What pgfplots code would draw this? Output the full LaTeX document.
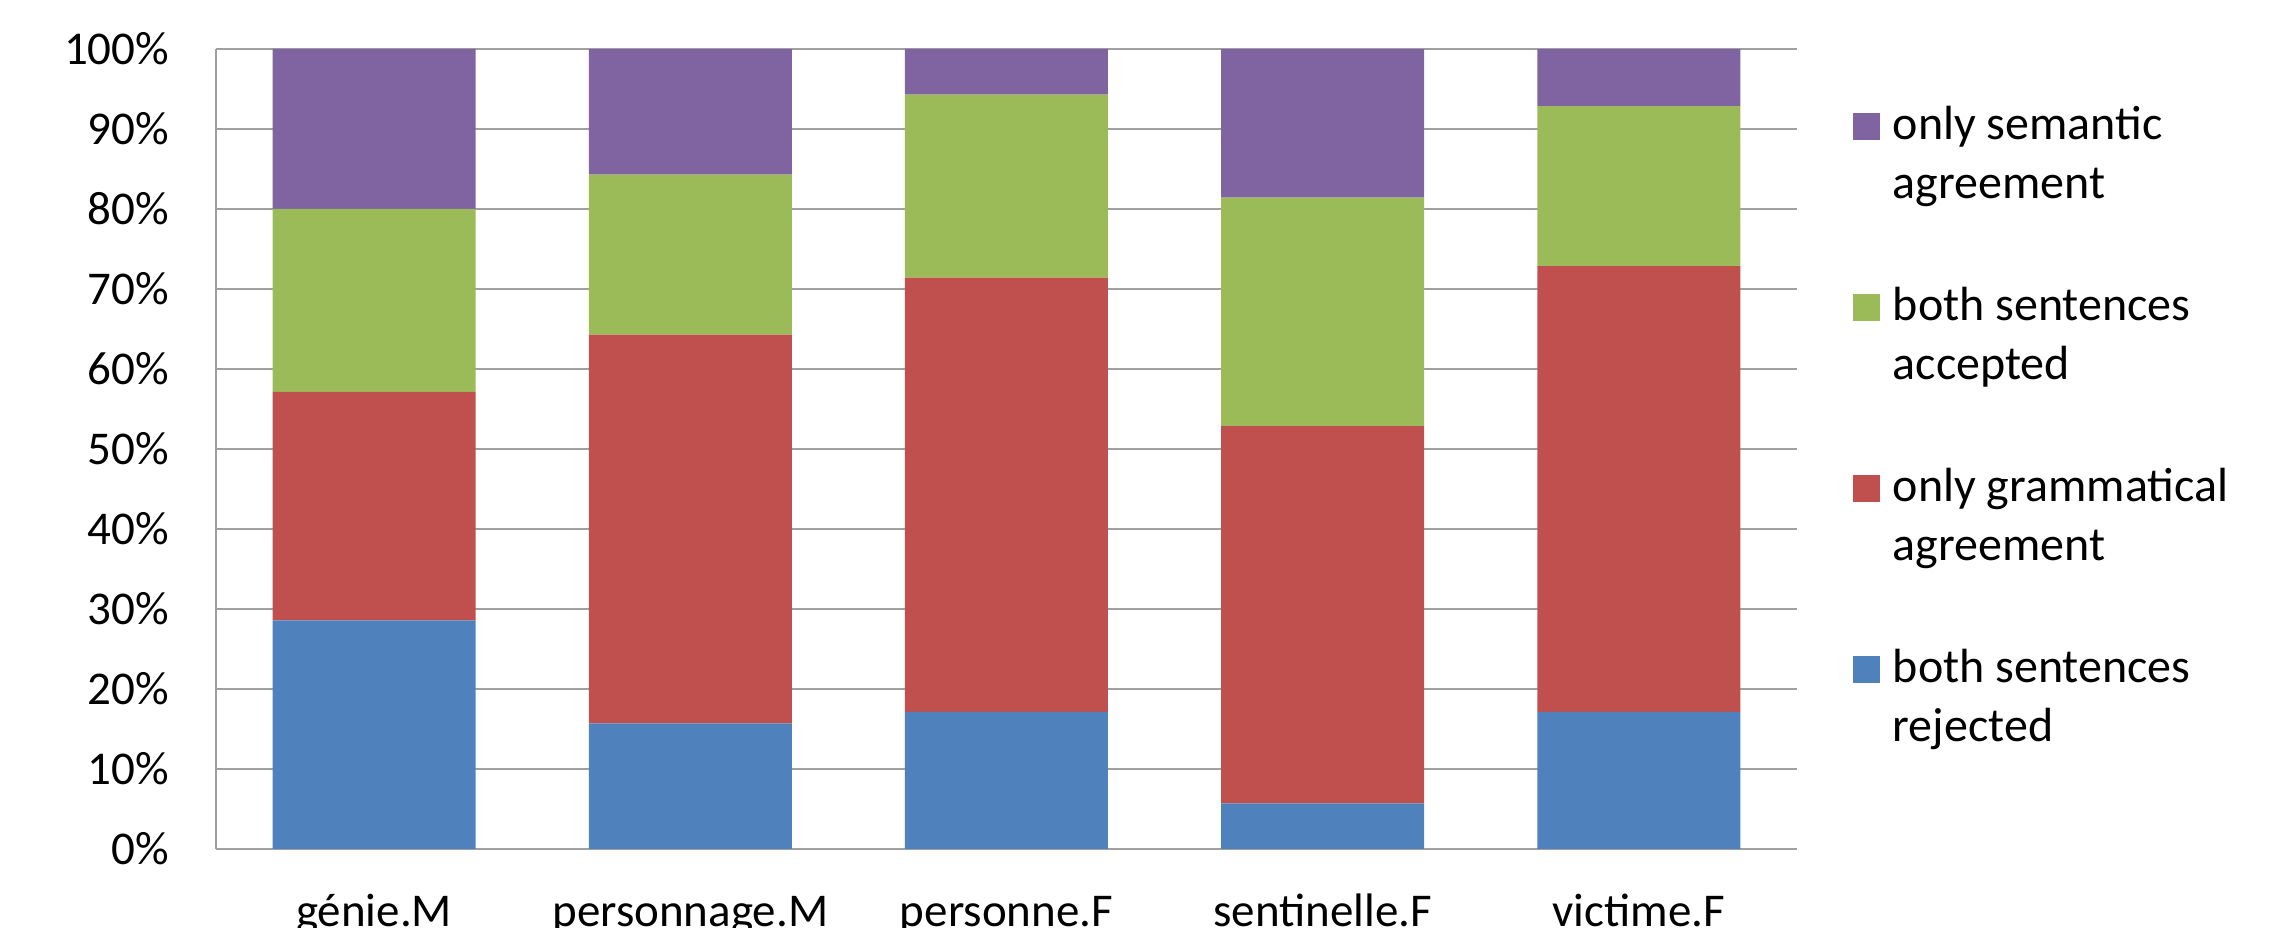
\documentclass[border=0pt]{standalone}
\usepackage{pgfplots}
\pgfplotsset{compat=1.18}
\usepackage{fontspec}
\setmainfont{Carlito}

\definecolor{rejblue}{HTML}{4F81BD}
\definecolor{gramred}{HTML}{C0504D}
\definecolor{accgreen}{HTML}{9BBB59}
\definecolor{sempurple}{HTML}{8064A2}
\definecolor{gridgray}{HTML}{A0A0A0}

\newcommand{\chartfont}{\fontsize{11.75}{14.75}\selectfont}
\newcommand{\legfont}{\fontsize{12}{14.7}\selectfont}

\begin{document}
\begin{tikzpicture}
\begin{axis}[
    name=ax, at={(0,0)}, anchor=south west,
    scale only axis,
    width=395.25pt, height=200pt,
    ybar stacked,
    bar width=0.642,
    xmin=-0.5, xmax=4.5,
    ymin=0, ymax=100,
    xtick={0,1,2,3,4},
    xticklabels={génie.M, personnage.M, personne.F, sentinelle.F, victime.F},
    ytick={0,10,...,100},
    yticklabels={0\%,10\%,20\%,30\%,40\%,50\%,60\%,70\%,80\%,90\%,100\%},
    major tick length=0pt,
    axis x line*=bottom, axis y line*=left,
    axis line style={-, draw=gridgray, line width=0.6pt},
    ymajorgrids,
    major grid style={draw=gridgray, line width=0.6pt},
    tick label style={font=\chartfont},
    yticklabel style={anchor=east, inner sep=0pt, xshift=-11.5pt},
    xticklabel style={anchor=base, inner sep=0pt, yshift=-19.5pt},
    reverse legend,
    legend cell align=left,
    legend style={draw=none, fill=none, at={(1.0348,0.929)}, anchor=north west,
        inner sep=0pt, row sep=20.7pt, column sep=3.25pt, font=\legfont,
        nodes={inner sep=0pt, align=left}},
    legend image code/.code={
        \path (0pt,-10.7pt);
        \fill[#1] (0pt,3.95pt) rectangle (6.75pt,10.7pt);
    },
]
% both sentences rejected
\addplot[fill=rejblue, draw=none] coordinates {(0,28.57) (1,15.71) (2,17.14) (3,5.71) (4,17.14)};
\addlegendentry{both sentences\\rejected}
% only grammatical agreement
\addplot[fill=gramred, draw=none] coordinates {(0,28.57) (1,48.57) (2,54.29) (3,47.14) (4,55.71)};
\addlegendentry{only grammatical\\agreement}
% both sentences accepted
\addplot[fill=accgreen, draw=none] coordinates {(0,22.86) (1,20.00) (2,22.86) (3,28.57) (4,20.00)};
\addlegendentry{both sentences\\accepted}
% only semantic agreement
\addplot[fill=sempurple, draw=none] coordinates {(0,20.00) (1,15.71) (2,5.71) (3,18.57) (4,7.14)};
\addlegendentry{only semantic\\agreement}
\end{axis}
\pgfresetboundingbox
\useasboundingbox (-54pt,-19.75pt) rectangle (517.25pt,212.25pt);
\end{tikzpicture}
\end{document}
